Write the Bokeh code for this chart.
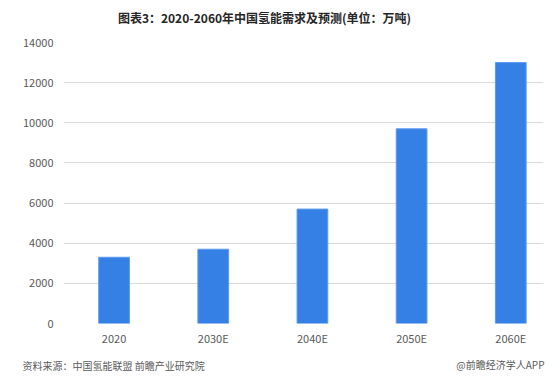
from bokeh.plotting import figure
from bokeh.models import Range1d, FixedTicker, Label
from bokeh.embed import file_html
from bokeh.resources import INLINE

categories = ["2020", "2030E", "2040E", "2050E", "2060E"]
demand = [3300, 3700, 5700, 9700, 13000]
y_ticks = [0, 2000, 4000, 6000, 8000, 10000, 12000, 14000]

title_text = "图表3：2020-2060年中国氢能需求及预测(单位：万吨)"
source_text = "资料来源：中国氢能联盟 前瞻产业研究院"
brand_text = "@前瞻经济学人APP"

FONT = "Noto Sans CJK SC"
xs = list(range(len(categories)))

p = figure(width=553, height=378, output_backend="svg", toolbar_location=None,
           x_range=Range1d(-0.51, 4.33), y_range=Range1d(0, 14000),
           min_border_left=63, min_border_right=10, min_border_top=42, min_border_bottom=55)
p.outline_line_color = None
p.background_fill_color = "white"
p.border_fill_color = "white"

p.vbar(x=xs, top=demand, width=0.31, fill_color="#3580E4", line_color="#5C9BEF", line_width=1)

p.xgrid.grid_line_color = None
p.ygrid.grid_line_color = "#D9D9D9"
p.ygrid.grid_line_width = 1
p.yaxis.ticker = FixedTicker(ticks=y_ticks)
p.xaxis.ticker = FixedTicker(ticks=xs)
p.xaxis.major_label_overrides = {i: c for i, c in zip(xs, categories)}

for ax in (p.xaxis[0], p.yaxis[0]):
    ax.axis_line_color = None
    ax.major_tick_line_color = None
    ax.minor_tick_line_color = None
    ax.major_tick_out = 0
    ax.major_tick_in = 0
    ax.minor_tick_out = 0
    ax.major_label_text_font = FONT
    ax.major_label_text_font_size = "11px"
    ax.major_label_text_color = "#595959"
p.yaxis.major_label_standoff = 10
p.xaxis.major_label_standoff = 6

p.add_layout(Label(x=201, y=25, x_units="screen", y_units="screen", text=title_text,
                   text_font=FONT, text_font_size="12px", text_font_style="bold",
                   text_color="#262626", text_align="center", text_baseline="middle"), "above")

p.add_layout(Label(x=-41, y=-2, x_units="screen", y_units="screen", text=source_text,
                   text_font=FONT, text_font_size="10px", text_color="#595959",
                   text_align="left", text_baseline="middle"), "below")
p.add_layout(Label(x=481, y=14, x_units="screen", y_units="screen", text=brand_text,
                   text_font=FONT, text_font_size="10px", text_color="#595959",
                   text_align="right", text_baseline="middle"), "below")

open("out.html", "w").write(file_html(p, INLINE))
